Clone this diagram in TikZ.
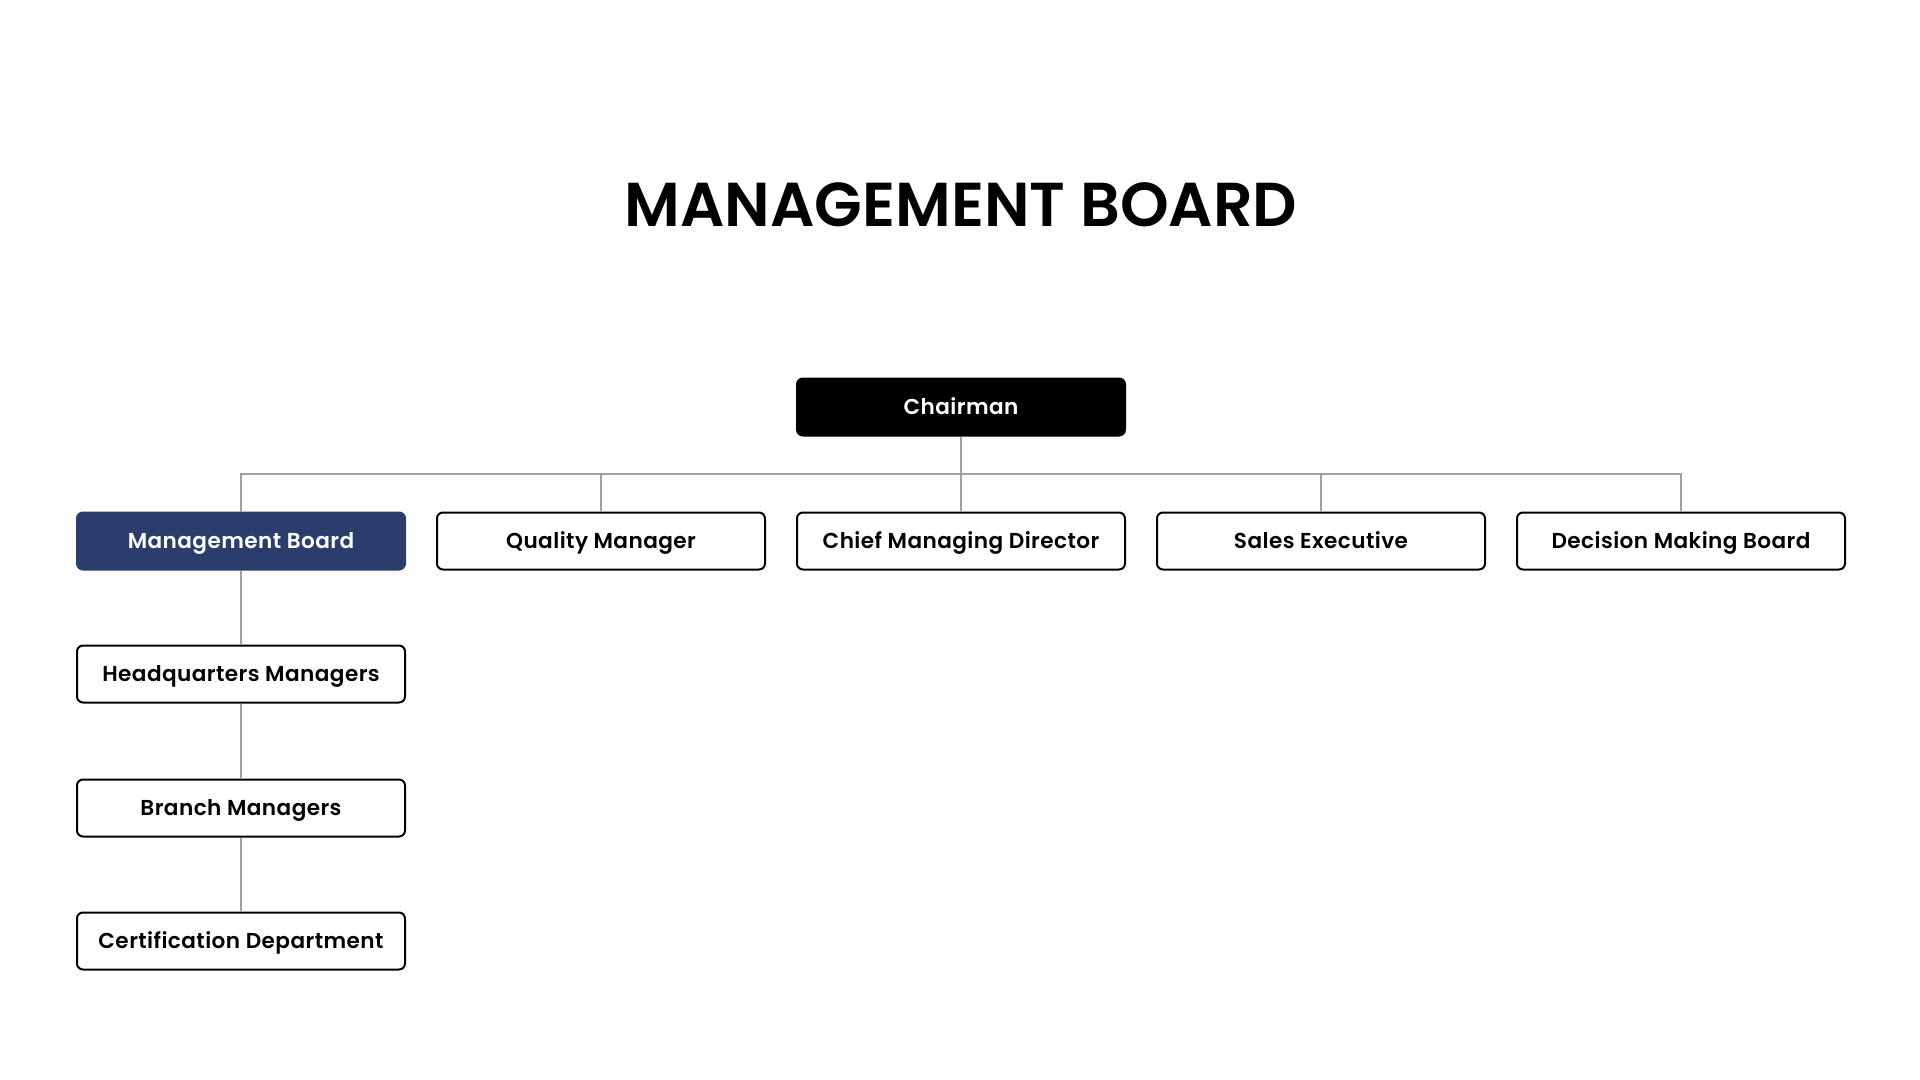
\documentclass[tikz,border=0pt]{standalone}
\usepackage{fontspec}
\setmainfont{Poppins}
\newfontfamily\titlefont{Poppins SemiBold}
\newfontfamily\boxfont[LetterSpace=2]{Poppins SemiBold}
\usepackage{xcolor}
\definecolor{navy}{RGB}{42,61,108}
\definecolor{linegray}{RGB}{160,160,160}
\tikzset{
  post/.style={draw=black,line width=1pt,rounded corners=3pt,fill=white,
    minimum width=164pt,minimum height=28.5pt,inner sep=0pt,
    text height=9.6pt,text depth=2pt,
    font=\boxfont\fontsize{10.8}{13}\selectfont},
  link/.style={draw=linegray,line width=1.3pt}
}

\begin{document}
\begin{tikzpicture}[x=0.5pt,y=-0.5pt]
      \useasboundingbox[fill=white] (0,0) rectangle (1920,1080);
      \node[font=\titlefont\fontsize{31}{34}\selectfont] (title) at (961,205) {MANAGEMENT BOARD};
      \node[post,fill=black,text=white] (chair) at (961,407) {Chairman};
      \node[post,fill=navy,draw=navy,text=white] (mb) at (241,541) {Management Board};
      \node[post] (qm) at (601,541) {Quality Manager};
      \node[post] (cmd) at (961,541) {Chief Managing Director};
      \node[post] (se) at (1321,541) {Sales Executive};
      \node[post] (dmb) at (1681,541) {Decision Making Board};
      \node[post] (hq) at (241,674) {Headquarters Managers};
      \node[post] (bm) at (241,808) {Branch Managers};
      \node[post] (cd) at (241,941) {Certification Department};
      \coordinate (bus) at (961,474);
      \draw[link] (chair.south) -- (bus);
      \draw[link] (mb.north) |- (bus) -| (dmb.north);
      \foreach \n in {qm,cmd,se}
        \draw[link] (\n.north) -- (\n.north |- bus);
      \draw[link] (mb.south) -- (hq.north);
      \draw[link] (hq.south) -- (bm.north);
      \draw[link] (bm.south) -- (cd.north);
    \end{tikzpicture}
\end{document}
